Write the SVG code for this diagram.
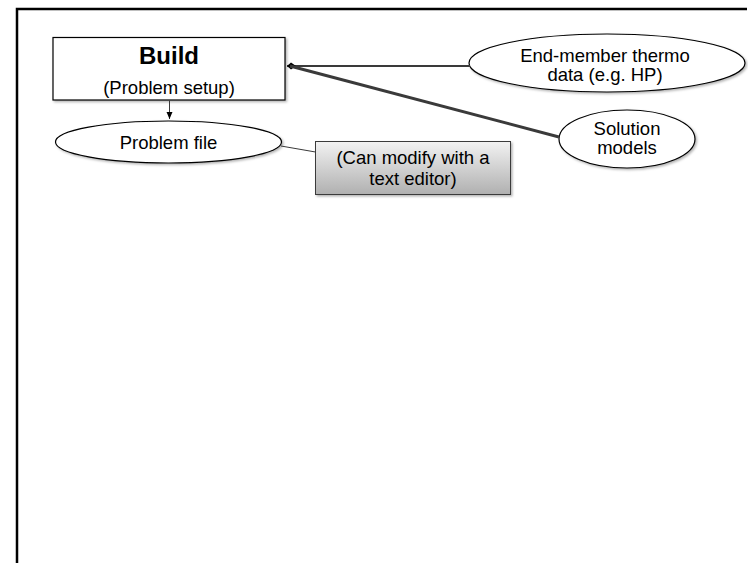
<svg xmlns="http://www.w3.org/2000/svg" width="748" height="563" viewBox="0 0 748 563">
  <style>
    text { font-family: "Liberation Sans", Arial, sans-serif; fill: #000; text-anchor: middle; }
    .lbl { font-size: 18.5px; }
    .title { font-size: 24px; font-weight: bold; }
    .node { fill: #fff; stroke: #000; stroke-width: 1.2; }
    .frame { stroke: #000; stroke-width: 2.5; fill: none; }
    .conn { fill: none; stroke: #3a3a3a; }
  </style>
  <defs>
    <filter id="shadow" x="-10%" y="-20%" width="130%" height="150%">
      <feDropShadow dx="1.5" dy="1.5" stdDeviation="1" flood-color="#000" flood-opacity="0.3"/>
    </filter>
    <linearGradient id="grayFill" x1="0" y1="0" x2="0" y2="1">
      <stop offset="0" stop-color="#f2f2f2"/>
      <stop offset="1" stop-color="#b0b0b0"/>
    </linearGradient>
    <marker id="arrow" markerWidth="8" markerHeight="8" refX="7" refY="4" orient="auto" markerUnits="userSpaceOnUse">
      <path d="M0,1 L7,4 L0,7 Z" fill="#000"/>
    </marker>
    <marker id="dot" markerWidth="12" markerHeight="12" refX="9" refY="6" orient="auto" markerUnits="userSpaceOnUse">
      <path d="M0,6 L5,2.5 L9,6 L5,9.5 Z" fill="#000"/>
    </marker>
  </defs>

  <!-- page frame: top and left edges -->
  <path class="frame" d="M17,563 L17,9 L747,9"/>

  <g id="build">
    <rect class="node" x="53" y="37.5" width="232" height="62.5" filter="url(#shadow)"/>
    <text class="title" x="169" y="64">Build</text>
    <text class="lbl" x="169" y="93.5">(Problem setup)</text>
  </g>

  <g id="problem-file">
    <ellipse class="node" cx="168.5" cy="142" rx="113" ry="21" filter="url(#shadow)"/>
    <text class="lbl" x="168.5" y="149">Problem file</text>
  </g>

  <g id="editor-note">
    <rect x="315.5" y="141.5" width="195" height="53" fill="url(#grayFill)" stroke="#3a3a3a" stroke-width="1" filter="url(#shadow)"/>
    <text class="lbl" x="413" y="164">(Can modify with a</text>
    <text class="lbl" x="413" y="185">text editor)</text>
  </g>

  <g id="thermo-data">
    <ellipse class="node" cx="607" cy="63" rx="138" ry="29" filter="url(#shadow)"/>
    <text class="lbl" x="605" y="61.5">End-member thermo</text>
    <text class="lbl" x="605" y="80.5">data (e.g. HP)</text>
  </g>

  <g id="solution-models">
    <ellipse class="node" cx="627" cy="139" rx="68" ry="29" filter="url(#shadow)"/>
    <text class="lbl" x="627" y="135">Solution</text>
    <text class="lbl" x="627" y="154">models</text>
  </g>

  <!-- connectors, drawn over the node outlines they touch -->
  <g id="connectors">
    <line class="conn" x1="169.5" y1="100.5" x2="169.5" y2="119" stroke-width="1" marker-end="url(#arrow)"/>
    <line class="conn" x1="470" y1="66" x2="287" y2="66" stroke-width="2" marker-end="url(#dot)"/>
    <line class="conn" x1="559" y1="137" x2="290" y2="66" stroke-width="3" stroke="#262626"/>
    <line class="conn" x1="281" y1="146" x2="315.5" y2="152" stroke-width="1" stroke="#000"/>
  </g>
</svg>
